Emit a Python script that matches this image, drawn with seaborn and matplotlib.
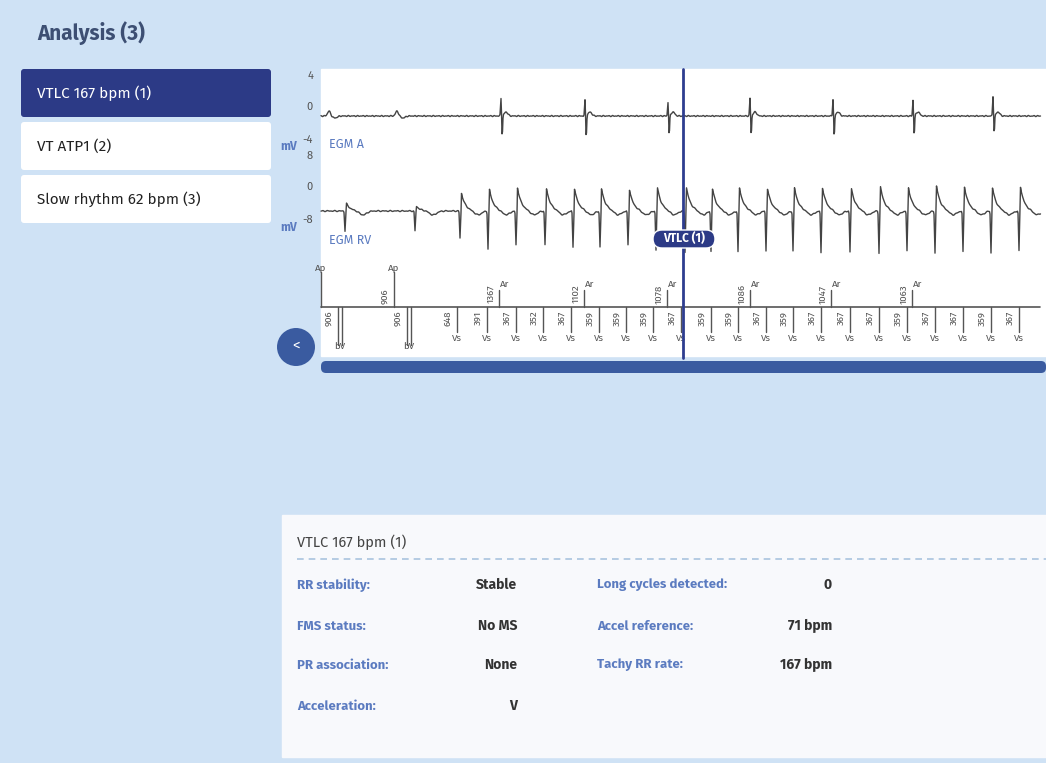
import numpy as np
import pandas as pd
import matplotlib
matplotlib.use("Agg")
import matplotlib.pyplot as plt
from matplotlib.patches import FancyBboxPatch, Rectangle, Circle
import seaborn as sns

sns.set_theme(style="white")
plt.rcParams['font.family'] = ['Fira Sans', 'Noto Sans', 'DejaVu Sans']

# ---------------- data ----------------
menu_items = ["VTLC 167 bpm (1)", "VT ATP1 (2)", "Slow rhythm 62 bpm (3)"]
title = "Analysis (3)"

# EGM A events (pixel-time, up amplitude, down amplitude in px)
egma_spike_t = [501, 585, 668, 750, 833, 913, 993]
egma_spike_up = [18, 16, 14, 18, 17, 16, 20]
egma_spike_dn = [21, 22, 20, 20, 22, 20, 18]
egma_bump_t = [329, 397]

# EGM RV complexes (time, up amplitude, down amplitude)
rv_t = [345, 415, 460, 488, 516, 545, 573, 600, 628, 656, 685, 711, 738, 766, 793, 821, 850, 879, 907, 935, 963, 991, 1019]
rv_up = [8, 5, 19, 23, 25, 24, 24, 24, 23, 25, 25, 24, 25, 24, 25, 25, 24, 26, 25, 27, 26, 25, 26]
rv_dn = [20, 20, 27, 38, 34, 34, 36, 36, 34, 39, 41, 40, 41, 40, 40, 42, 41, 42, 40, 42, 41, 42, 40]

# marker channel
ap_t = [321, 394]
ap_lbl = ["", "906"]
ar_t = [499, 584, 667, 750, 831, 912]
ar_lbl = ["1367", "1102", "1078", "1086", "1047", "1063"]
bv_t = [340, 409]
bv_lbl = ["906", "906"]
vs_t = [457, 487, 516, 543, 571, 599, 626, 653, 681, 711, 738, 766, 793, 821, 850, 879, 907, 935, 963, 991, 1019, 1047]
vs_lbl = ["648", "391", "367", "352", "367", "359", "359", "359", "367", "359", "359", "367",
          "359", "367", "367", "367", "359", "367", "367", "359", "367", "367"]

details_left = [("RR stability:", "Stable"), ("FMS status:", "No MS"),
                ("PR association:", "None"), ("Acceleration:", "V")]
details_right = [("Long cycles detected:", "0"), ("Accel reference:", "71 bpm"),
                 ("Tachy RR rate:", "167 bpm")]

# ---------------- figure ----------------
W, H = 1046, 763
fig = plt.figure(figsize=(W / 100, H / 100), dpi=100)
fig.patch.set_facecolor("#cfe2f5")
ax = fig.add_axes([0, 0, 1, 1])
ax.set_xlim(0, W)
ax.set_ylim(H, 0)
ax.axis("off")

BLUE = "#5b7bc0"
DARK = "#2c3a86"

ax.add_patch(Rectangle((6, 0), 1040, 757, color="#cfe2f5", zorder=0))
ax.text(37, 33, title, fontsize=15, fontweight="bold", color="#3d4f73", va="center")

for i, item in enumerate(menu_items):
    y0 = 69 + i * 53
    sel = i == 0
    ax.add_patch(FancyBboxPatch((21, y0), 250, 48, boxstyle="round,pad=0,rounding_size=3",
                                fc=DARK if sel else "white", ec="none", zorder=1))
    ax.text(37, y0 + 24, item, fontsize=11, color="white" if sel else "#222222", va="center")

# plot panel
ax.add_patch(Rectangle((321, 69), 725, 287, color="white", zorder=1))

# traces
x = np.arange(321, 1041, 0.5)
ya = np.full_like(x, 116.0)
for t, u, d in zip(egma_spike_t, egma_spike_up, egma_spike_dn):
    ya -= u * np.exp(-((x - t) / 0.6) ** 2)
    ya += d * np.exp(-((x - t - 1.2) / 0.6) ** 2)
    ya -= 4 * np.exp(-((x - t - 5) / 2.5) ** 2)
for t in egma_bump_t:
    ya -= 5 * np.exp(-((x - t) / 2) ** 2)
    ya += 2 * np.exp(-((x - t - 6) / 3) ** 2)
ya += 0.6 * np.sin(x * 1.7) * np.cos(x * 0.37)

yr = np.full_like(x, 211.0)
for t, u, d in zip(rv_t, rv_up, rv_dn):
    yr += d * np.exp(-((x - t) / 0.6) ** 2)
    rise = (x >= t + 1.2)
    yr -= u * np.where(rise, np.exp(-np.clip(x - t - 1.2, 0, None) / 4.0), 0) * np.exp(-((x - t - 1.2) / 40) ** 2)
    yr += 4 * np.exp(-((x - t - 18) / 5) ** 2)
yr += 0.6 * np.sin(x * 1.3) * np.cos(x * 0.29)

df = pd.DataFrame({"x": np.concatenate([x, x]), "y": np.concatenate([ya, yr]),
                   "ch": ["A"] * len(x) + ["RV"] * len(x)})
sns.lineplot(data=df, x="x", y="y", units="ch", estimator=None, color="#444444",
             lw=1.0, ax=ax, legend=False, zorder=3)
ax.set_xlim(0, W); ax.set_ylim(H, 0); ax.axis("off")

# y tick labels
for lbl, yy in [("4", 76), ("0", 107), ("-4", 140), ("8", 156), ("0", 187), ("-8", 220)]:
    ax.text(313, yy, lbl, fontsize=8, color="#555555", ha="right", va="center")
ax.text(289, 146, "mV", fontsize=8.5, color=BLUE, fontweight="bold", ha="center", va="center")
ax.text(289, 227, "mV", fontsize=8.5, color=BLUE, fontweight="bold", ha="center", va="center")
ax.text(329, 144, "EGM A", fontsize=9, color=BLUE, va="center", zorder=4)
ax.text(329, 240, "EGM RV", fontsize=9, color=BLUE, va="center", zorder=4)

# marker channel
mc = "#555555"
ax.plot([321, 1040], [307, 307], color=mc, lw=1.2, zorder=3)
for t, l in zip(ap_t, ap_lbl):
    ax.plot([t, t], [272, 307], color=mc, lw=1, zorder=3)
    ax.text(t, 267, "Ap", fontsize=7, color=mc, ha="center", va="center")
    if l:
        ax.text(t - 9, 296, l, fontsize=7, color=mc, rotation=90, ha="center", va="center")
for t, l in zip(ar_t, ar_lbl):
    ax.plot([t, t], [290, 307], color=mc, lw=1, zorder=3)
    ax.text(t + 1, 284, "Ar", fontsize=7, color=mc, ha="left", va="center")
    ax.text(t - 8, 294, l, fontsize=7, color=mc, rotation=90, ha="center", va="center")
for t, l in zip(bv_t, bv_lbl):
    ax.plot([t - 2, t - 2], [307, 345], color=mc, lw=1, zorder=3)
    ax.plot([t + 2, t + 2], [307, 345], color=mc, lw=1, zorder=3)
    ax.text(t, 346, "bV", fontsize=7, color=mc, ha="center", va="center")
    ax.text(t - 11, 318, l, fontsize=7, color=mc, rotation=90, ha="center", va="center")
for t, l in zip(vs_t, vs_lbl):
    if t > 1040:
        continue
    ax.plot([t, t], [307, 332], color=mc, lw=1, zorder=3)
    ax.text(t, 338, "Vs", fontsize=7, color=mc, ha="center", va="center")
    ax.text(t - 9, 318, l, fontsize=7, color=mc, rotation=90, ha="center", va="center")

# cursor
ax.plot([683, 683], [69, 358], color="#2e3d8f", lw=2, zorder=5)
ax.add_patch(FancyBboxPatch((653, 230), 62, 18, boxstyle="round,pad=0,rounding_size=9",
                            fc=DARK, ec="white", lw=1, zorder=6))
ax.text(684, 239, "VTLC (1)", fontsize=8.5, color="white", fontweight="bold",
        ha="center", va="center", zorder=7)

# scrollbar & button
ax.add_patch(FancyBboxPatch((321, 361), 725, 12, boxstyle="round,pad=0,rounding_size=5",
                            fc="#3a5ba0", ec="none", zorder=2))
ax.add_patch(Circle((296, 347), 19, fc="#3a5ba0", ec="none", zorder=2))
ax.text(296, 346, "<", fontsize=11, color="white", ha="center", va="center", zorder=3)

# details panel
ax.add_patch(Rectangle((282, 515), 764, 242, color="#f8f9fc", zorder=1))
ax.text(297, 542, "VTLC 167 bpm (1)", fontsize=10.5, color="#444444", va="center", zorder=2)
ax.plot([297, 1046], [559, 559], color="#a9c3de", lw=1.2, ls=(0, (4, 3)), zorder=2)
rows_y = [585, 626, 665, 706]
for (k, v), yy in zip(details_left, rows_y):
    ax.text(297, yy, k, fontsize=9.5, color=BLUE, fontweight="bold", va="center", zorder=2)
    ax.text(517, yy, v, fontsize=10, color="#333333", fontweight="bold", ha="right", va="center", zorder=2)
for (k, v), yy in zip(details_right, rows_y):
    ax.text(597, yy, k, fontsize=9.5, color=BLUE, fontweight="bold", va="center", zorder=2)
    ax.text(832, yy, v, fontsize=10, color="#333333", fontweight="bold", ha="right", va="center", zorder=2)

fig.savefig("out.png", dpi=100, facecolor=fig.get_facecolor())
